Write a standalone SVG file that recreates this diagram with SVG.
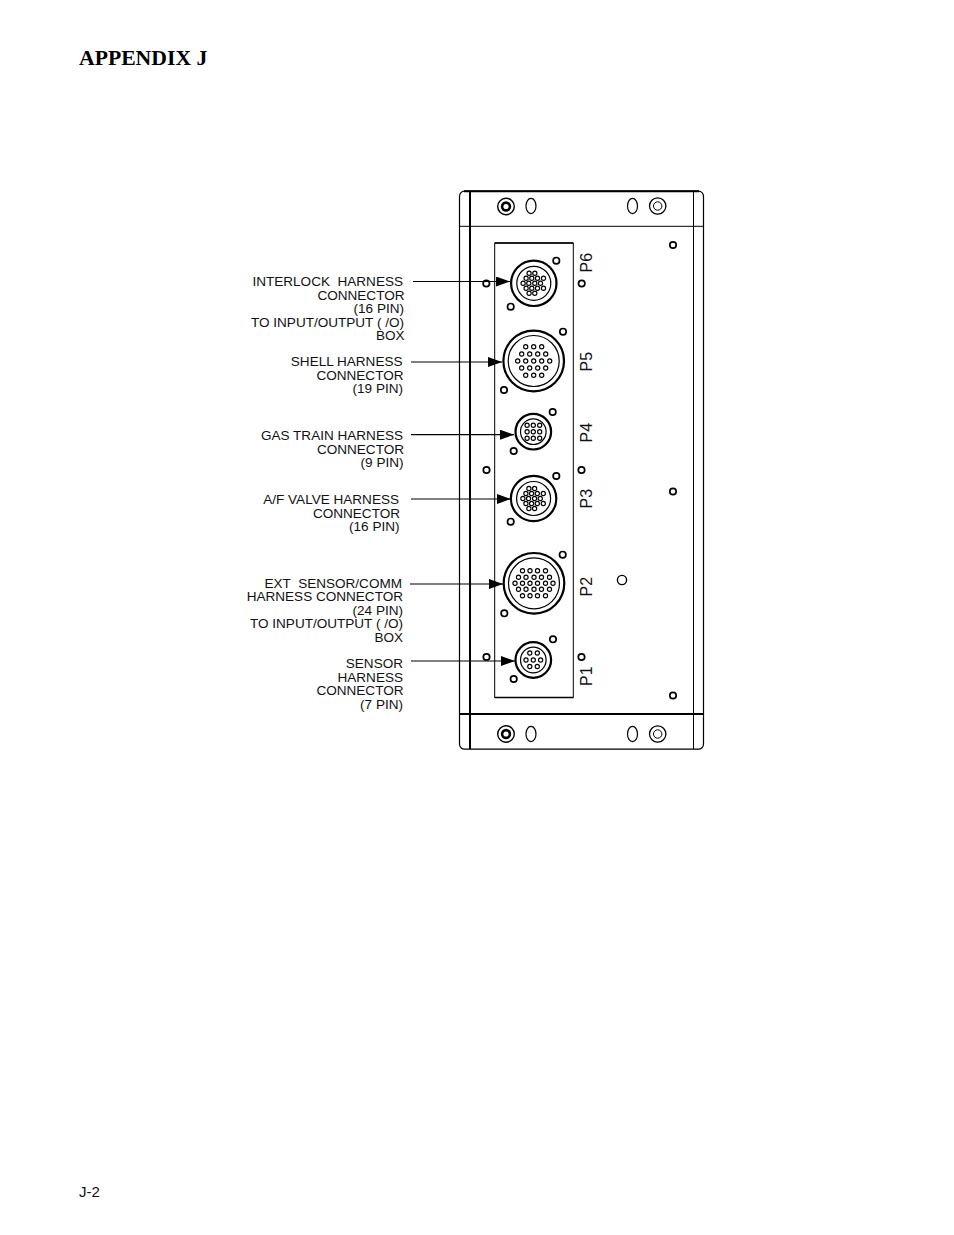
<svg xmlns="http://www.w3.org/2000/svg" width="954" height="1235" viewBox="0 0 954 1235">
<style>
.s{fill:none;stroke:#000;stroke-width:1}
.t{fill:none;stroke:#000;stroke-width:2}
.h{fill:#fff;stroke:#000;stroke-width:1.7}
.p{fill:none;stroke:#000;stroke-width:1.15}
.l{font-family:"Liberation Sans",Arial,sans-serif;font-size:13.55px;fill:#111;text-anchor:end}
.r{font-family:"Liberation Sans",Arial,sans-serif;font-size:16px;fill:#111}
.j{font-family:"Liberation Sans",Arial,sans-serif;font-size:15px;fill:#111}
.c{stroke:#000;stroke-width:1.2;fill:none}
</style>
<defs>
<marker id="arrow" viewBox="0 0 14 10" refX="14" refY="5" markerWidth="14" markerHeight="10" markerUnits="userSpaceOnUse" orient="auto"><path d="M0 0L14 5L0 10Z" fill="#000"/></marker>
<circle id="hole" r="3.2" class="h"/>
<circle id="pin" r="2.1" class="p"/>
<g id="c16">
<circle r="22.7" fill="none" stroke="#000" stroke-width="2.2"/><circle r="17" fill="none" stroke="#000" stroke-width="1.2"/>
<use href="#pin" x="-4.7" y="-10"/><use href="#pin" x="1" y="-10"/>
<use href="#pin" x="-7.7" y="-5"/><use href="#pin" x="-2" y="-5"/><use href="#pin" x="3.7" y="-5"/><use href="#pin" x="9.7" y="-5"/>
<use href="#pin" x="-10.7" y="0"/><use href="#pin" x="-5" y="0"/><use href="#pin" x="1" y="0"/><use href="#pin" x="6.7" y="0"/>
<use href="#pin" x="-7.7" y="5"/><use href="#pin" x="-2" y="5"/><use href="#pin" x="3.7" y="5"/><use href="#pin" x="9.7" y="5"/>
<use href="#pin" x="-4.7" y="10"/><use href="#pin" x="1" y="10"/>
</g>
<g id="ring30"><circle r="30.3" fill="none" stroke="#000" stroke-width="2.2"/><circle r="25.5" fill="none" stroke="#000" stroke-width="1.2"/></g>
<g id="ring18"><circle r="17.8" fill="none" stroke="#000" stroke-width="2.2"/><circle r="12.8" fill="none" stroke="#000" stroke-width="1.2"/></g>
<g id="screwA"><circle r="8.3" fill="none" stroke="#000" stroke-width="1.4"/><circle r="5.2" fill="#000"/><circle r="2.6" fill="#fff"/></g>
<g id="screwB"><circle r="8.2" fill="none" stroke="#000" stroke-width="1.3"/><circle r="4.2" class="s"/></g>
<ellipse id="slot" rx="5" ry="7.6" fill="none" stroke="#000" stroke-width="1.2"/>
</defs>

<text id="title" x="79" y="64.5" font-family="'Liberation Serif','Times New Roman',serif" font-weight="bold" font-size="21.7" fill="#000">APPENDIX J</text>
<text id="page" x="79" y="1197" class="j">J-2</text>

<g id="housing">
<rect x="459.5" y="191.2" width="244" height="558" rx="5" ry="5" fill="none" stroke="#000" stroke-width="1.2"/>
<path d="M464 191.2H699" class="t"/>
<path d="M470 191V749" class="t"/>
<path d="M693.5 191V749" class="s"/>
<path d="M459.5 226.3H703.5" class="s"/>
<path d="M459.5 714H703.5" class="t"/>
<use href="#screwA" x="506" y="206.5"/><use href="#slot" x="531" y="206"/><use href="#slot" x="632.5" y="206"/><use href="#screwB" x="657.7" y="206"/>
<use href="#screwA" x="506" y="734"/><use href="#slot" x="531" y="734"/><use href="#slot" x="632.5" y="734"/><use href="#screwB" x="657.7" y="734"/>
<use href="#hole" x="673" y="245"/><use href="#hole" x="673" y="491.5"/><use href="#hole" x="673" y="695.5"/>
<circle cx="622" cy="580" r="4.6" fill="#fff" stroke="#000" stroke-width="1.4"/>
<use href="#hole" x="486.3" y="283.5"/><use href="#hole" x="486.5" y="470"/><use href="#hole" x="486.5" y="657"/>
<use href="#hole" x="581.7" y="283.5"/><use href="#hole" x="581.5" y="470"/><use href="#hole" x="581.5" y="657"/>
</g>

<g id="plate">
<path d="M494.7 243H573.3V697.5H494.7Z" class="s"/>
<path d="M494.7 243H573.3M494.7 697.5H573.3" fill="none" stroke="#000" stroke-width="1.6"/>
</g>

<g id="P6">
<use href="#c16" x="533.8" y="283.3"/><use href="#hole" x="556.3" y="260.7"/><use href="#hole" x="510.7" y="306.7"/>
<text class="r" transform="translate(592 272.5) rotate(-90)">P6</text>
</g>
<g id="P5">
<use href="#ring30" x="533.7" y="361"/>
<g transform="translate(533.7 361)">
<use href="#pin" x="-8" y="-14.3"/><use href="#pin" x="0" y="-14.3"/><use href="#pin" x="8" y="-14.3"/>
<use href="#pin" x="-12" y="-7"/><use href="#pin" x="-4" y="-7"/><use href="#pin" x="4" y="-7"/><use href="#pin" x="12" y="-7"/>
<use href="#pin" x="-16" y="0"/><use href="#pin" x="-8" y="0"/><use href="#pin" x="0" y="0"/><use href="#pin" x="8" y="0"/><use href="#pin" x="16" y="0"/>
<use href="#pin" x="-12" y="7"/><use href="#pin" x="-4" y="7"/><use href="#pin" x="4" y="7"/><use href="#pin" x="12" y="7"/>
<use href="#pin" x="-8" y="14.3"/><use href="#pin" x="0" y="14.3"/><use href="#pin" x="8" y="14.3"/>
</g>
<use href="#hole" x="563" y="331.7"/><use href="#hole" x="504" y="390"/>
<text class="r" transform="translate(591.5 371.5) rotate(-90)">P5</text>
</g>
<g id="P4">
<use href="#ring18" x="533.3" y="431.7"/>
<g transform="translate(533.3 431.7)">
<use href="#pin" x="-6.2" y="-6.5"/><use href="#pin" x="0" y="-6.5"/><use href="#pin" x="6.4" y="-6.5"/>
<use href="#pin" x="-6.2" y="0"/><use href="#pin" x="0" y="0"/><use href="#pin" x="6.4" y="0"/>
<use href="#pin" x="-6.2" y="6.5"/><use href="#pin" x="0" y="6.5"/><use href="#pin" x="6.4" y="6.5"/>
</g>
<use href="#hole" x="552.7" y="412"/><use href="#hole" x="513.7" y="451"/>
<text class="r" transform="translate(591.5 442.5) rotate(-90)">P4</text>
</g>
<g id="P3">
<use href="#c16" x="533.6" y="498.5"/><use href="#hole" x="556.3" y="476"/><use href="#hole" x="510.7" y="521.7"/>
<text class="r" transform="translate(591.5 508.5) rotate(-90)">P3</text>
</g>
<g id="P2">
<use href="#ring30" x="534" y="583.3"/>
<g transform="translate(534 583.3)">
<use href="#pin" x="-11.5" y="-12.5"/><use href="#pin" x="-4" y="-12.5"/><use href="#pin" x="3.5" y="-12.5"/><use href="#pin" x="11.5" y="-12.5"/>
<use href="#pin" x="-15.5" y="-6"/><use href="#pin" x="-8" y="-6"/><use href="#pin" x="0" y="-6"/><use href="#pin" x="7.5" y="-6"/><use href="#pin" x="15.5" y="-6"/>
<use href="#pin" x="-19" y="0"/><use href="#pin" x="-11.5" y="0"/><use href="#pin" x="-4" y="0"/><use href="#pin" x="3.5" y="0"/><use href="#pin" x="11.5" y="0"/><use href="#pin" x="19" y="0"/>
<use href="#pin" x="-15.5" y="6"/><use href="#pin" x="-8" y="6"/><use href="#pin" x="0" y="6"/><use href="#pin" x="7.5" y="6"/><use href="#pin" x="15.5" y="6"/>
<use href="#pin" x="-11.5" y="12.5"/><use href="#pin" x="-4" y="12.5"/><use href="#pin" x="3.5" y="12.5"/><use href="#pin" x="11.5" y="12.5"/>
</g>
<use href="#hole" x="562.7" y="554.7"/><use href="#hole" x="504.3" y="613.3"/>
<text class="r" transform="translate(591.5 596.5) rotate(-90)">P2</text>
</g>
<g id="P1">
<use href="#ring18" x="533.3" y="660"/>
<g transform="translate(533.3 660)">
<use href="#pin" x="-3.5" y="-7"/><use href="#pin" x="4" y="-7"/>
<use href="#pin" x="-7.3" y="0"/><use href="#pin" x="0" y="0"/><use href="#pin" x="7.3" y="0"/>
<use href="#pin" x="-3.5" y="6.5"/><use href="#pin" x="4" y="6.5"/>
</g>
<use href="#hole" x="553" y="639.3"/><use href="#hole" x="513.7" y="679"/>
<text class="r" transform="translate(591.5 686) rotate(-90)">P1</text>
</g>

<g id="connectors">
<line x1="413" y1="281.5" x2="510" y2="281.5" class="c" marker-end="url(#arrow)"/>
<line x1="411" y1="362" x2="502" y2="362" class="c" marker-end="url(#arrow)"/>
<line x1="411" y1="434.7" x2="514" y2="434.7" class="c" marker-end="url(#arrow)"/>
<line x1="411" y1="499" x2="511" y2="499" class="c" marker-end="url(#arrow)"/>
<line x1="410" y1="584" x2="503" y2="584" class="c" marker-end="url(#arrow)"/>
<line x1="411" y1="661" x2="515" y2="661" class="c" marker-end="url(#arrow)"/>
</g>

<g id="labels">
<g id="label-P6"><text class="l" x="403" y="286" xml:space="preserve">INTERLOCK  HARNESS</text><text class="l" x="404.5" y="299.5">CONNECTOR</text><text class="l" x="404" y="313">(16 PIN)</text><text class="l" x="404" y="326.5">TO INPUT/OUTPUT ( /O)</text><text class="l" x="404.5" y="340">BOX</text></g>
<g id="label-P5"><text class="l" x="402.5" y="366">SHELL HARNESS</text><text class="l" x="403.5" y="379.5">CONNECTOR</text><text class="l" x="403" y="393">(19 PIN)</text></g>
<g id="label-P4"><text class="l" x="403" y="440">GAS TRAIN HARNESS</text><text class="l" x="404" y="454">CONNECTOR</text><text class="l" x="403.5" y="467">(9 PIN)</text></g>
<g id="label-P3"><text class="l" x="399" y="504">A/F VALVE HARNESS</text><text class="l" x="400" y="517.5">CONNECTOR</text><text class="l" x="399.5" y="531">(16 PIN)</text></g>
<g id="label-P2"><text class="l" x="402" y="588" xml:space="preserve">EXT  SENSOR/COMM</text><text class="l" x="403" y="601">HARNESS CONNECTOR</text><text class="l" x="403" y="615">(24 PIN)</text><text class="l" x="403" y="628">TO INPUT/OUTPUT ( /O)</text><text class="l" x="403" y="642">BOX</text></g>
<g id="label-P1"><text class="l" x="403" y="668">SENSOR</text><text class="l" x="403" y="682">HARNESS</text><text class="l" x="403.5" y="695">CONNECTOR</text><text class="l" x="403" y="709">(7 PIN)</text></g>
</g>
</svg>
